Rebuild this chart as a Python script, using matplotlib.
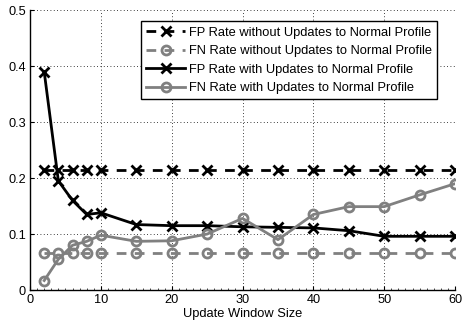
import matplotlib
matplotlib.use("Agg")
import matplotlib.pyplot as plt
from matplotlib.ticker import MultipleLocator

plt.rcParams['font.family'] = ['Liberation Sans', 'DejaVu Sans']

window = [2, 4, 6, 8, 10, 15, 20, 25, 30, 35, 40, 45, 50, 55, 60]
fp_static = [0.215] * len(window)
fn_static = [0.067] * len(window)
fp_update = [0.39, 0.195, 0.16, 0.135, 0.138, 0.117, 0.115, 0.115,
             0.113, 0.112, 0.111, 0.106, 0.096, 0.096, 0.096]
fn_update = [0.017, 0.055, 0.08, 0.087, 0.098, 0.087, 0.088, 0.1,
             0.128, 0.09, 0.135, 0.149, 0.149, 0.17, 0.19]

gray = '#808080'

fig = plt.figure(figsize=(4.62, 3.27), dpi=100)
ax = fig.add_axes([0.065, 0.113, 0.920, 0.856])

ax.plot(window, fp_static, color='black', ls=(0, (3.5, 3)), lw=2,
        marker='x', ms=7.5, mew=2,
        label='FP Rate without Updates to Normal Profile')
ax.plot(window, fn_static, color=gray, ls=(0, (3.5, 3)), lw=2,
        marker='o', ms=6.5, mew=2, mfc='none',
        label='FN Rate without Updates to Normal Profile')
ax.plot(window, fp_update, color='black', lw=2,
        marker='x', ms=7.5, mew=2,
        label='FP Rate with Updates to Normal Profile')
ax.plot(window, fn_update, color=gray, lw=2,
        marker='o', ms=6.5, mew=2, mfc='none',
        label='FN Rate with Updates to Normal Profile')

ax.set_xlim(0, 60)
ax.set_ylim(0, 0.5)
ax.set_xticks([0, 10, 20, 30, 40, 50, 60])
ax.set_yticks([0, 0.1, 0.2, 0.3, 0.4, 0.5])
ax.set_yticklabels(['0', '0.1', '0.2', '0.3', '0.4', '0.5'])
ax.xaxis.set_minor_locator(MultipleLocator(1))
ax.tick_params(direction='in', labelsize=9.2, length=3, width=0.8, pad=3)
ax.tick_params(which='minor', direction='in', length=1.5, width=0.5)
ax.grid(True, color='black', ls=(0, (1, 3)), lw=0.6)

for side in ('top', 'right'):
    ax.spines[side].set_visible(False)
for side in ('left', 'bottom'):
    ax.spines[side].set_linewidth(1.0)

ax.set_xlabel('Update Window Size', fontsize=9.3, labelpad=1)

leg = ax.legend(loc='upper right', bbox_to_anchor=(0.958, 0.96),
                fontsize=9.3, fancybox=False, framealpha=1,
                edgecolor='black', handlelength=3.0, borderpad=0.4,
                labelspacing=0.5, handletextpad=0.3, borderaxespad=0)
leg.get_frame().set_linewidth(1.0)

fig.savefig('out.png', dpi=100)
